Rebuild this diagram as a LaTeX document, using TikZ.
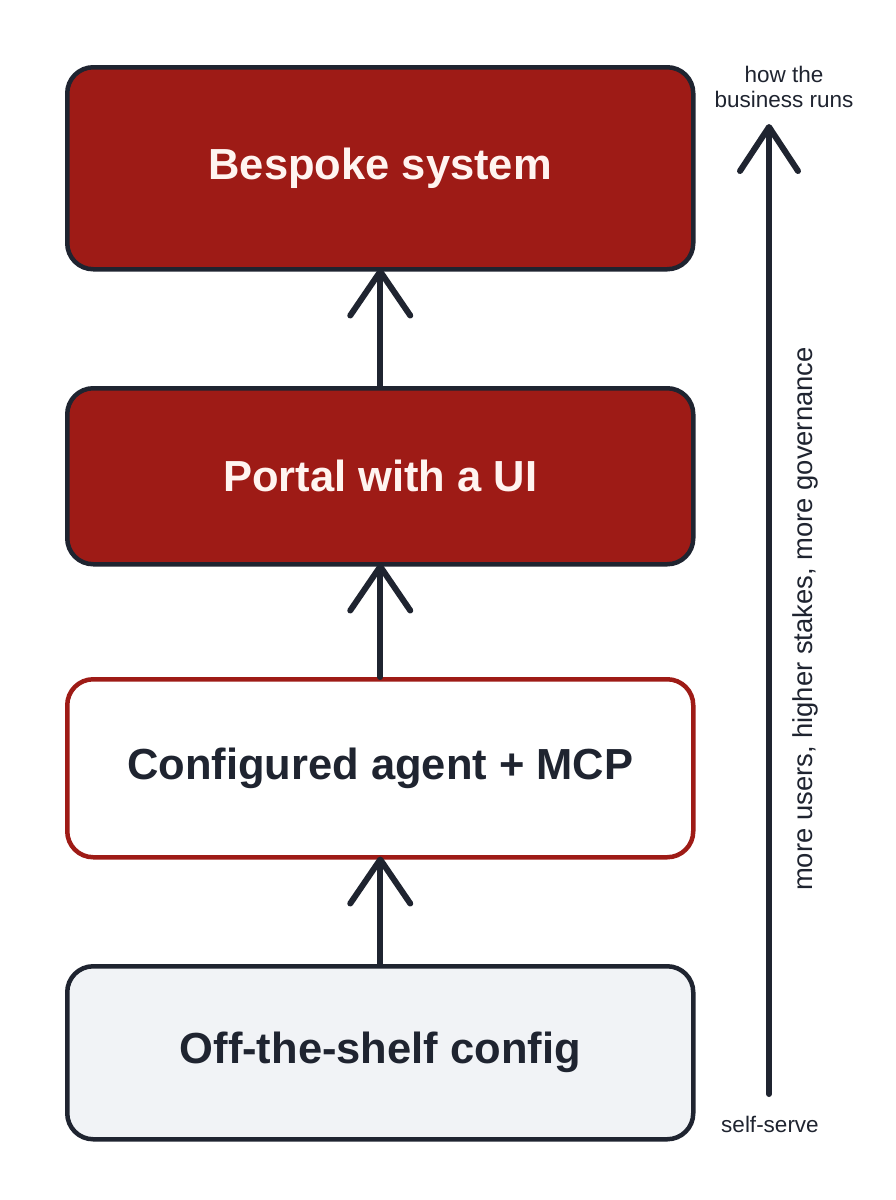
\documentclass[tikz,border=0pt]{standalone}
\usepackage{fontspec}
\setmainfont{Liberation Sans}
\usetikzlibrary{arrows.meta}
\definecolor{ink}{HTML}{1F2430}
\definecolor{brick}{HTML}{9E1B16}
\definecolor{pale}{HTML}{F1F3F6}
\definecolor{lighttext}{HTML}{FFF4F0}
\tikzset{
  tier/.style={rounded corners=26pt, line width=4.5pt, minimum width=626pt, anchor=north west, inner sep=0pt},
  darktier/.style={tier, draw=ink, fill=brick, text=lighttext},
  outlinetier/.style={tier, draw=brick, fill=white, text=ink},
  basetier/.style={tier, draw=ink, fill=pale, text=ink},
  tiertext/.style={font=\fontsize{43.5}{50}\selectfont\bfseries},
  uparrow/.style={draw=ink, line width=6pt, line cap=round,
    -{Straight Barb[length=44pt, width=60pt, line width=6pt, round]}},
  sidetext/.style={text=ink, font=\fontsize{22.5}{25}\selectfont, align=center}
}
\begin{document}
\begin{tikzpicture}[x=1pt,y=-1pt]
\useasboundingbox (0,0) rectangle (896,1200);
\fill[white] (0,0) rectangle (896,1200);
\node[darktier, minimum height=202pt, tiertext] (bespoke) at (65,65) {Bespoke system};
\node[darktier, minimum height=176pt, tiertext] (portal) at (65,386) {Portal with a UI};
\node[outlinetier, minimum height=178pt, tiertext] (agent) at (65,677) {Configured agent + MCP};
\node[basetier, minimum height=173pt, tiertext] (shelf) at (65,964) {Off-the-shelf config};
\draw[uparrow, shorten >=-3pt] (portal.north) -- (bespoke.south);
\draw[uparrow, shorten >=-3pt] (agent.north) -- (portal.south);
\draw[uparrow, shorten >=-3pt] (shelf.north) -- (agent.south);
\coordinate (low) at (769,1094);
\coordinate (high) at (769,124);
\draw[draw=ink, line width=6pt, line cap=round,
  -{Straight Barb[length=44pt, width=58pt, line width=6pt, round]}] (low) -- (high);
\node[sidetext] (top) at (784,87) {how the\\business runs};
\node[sidetext] (bottom) at (770,1124) {self-serve};
\node[sidetext, font=\fontsize{27.4}{30}\selectfont, rotate=90] (axis) at (805,619) {more users, higher stakes, more governance};
\end{tikzpicture}
\end{document}
